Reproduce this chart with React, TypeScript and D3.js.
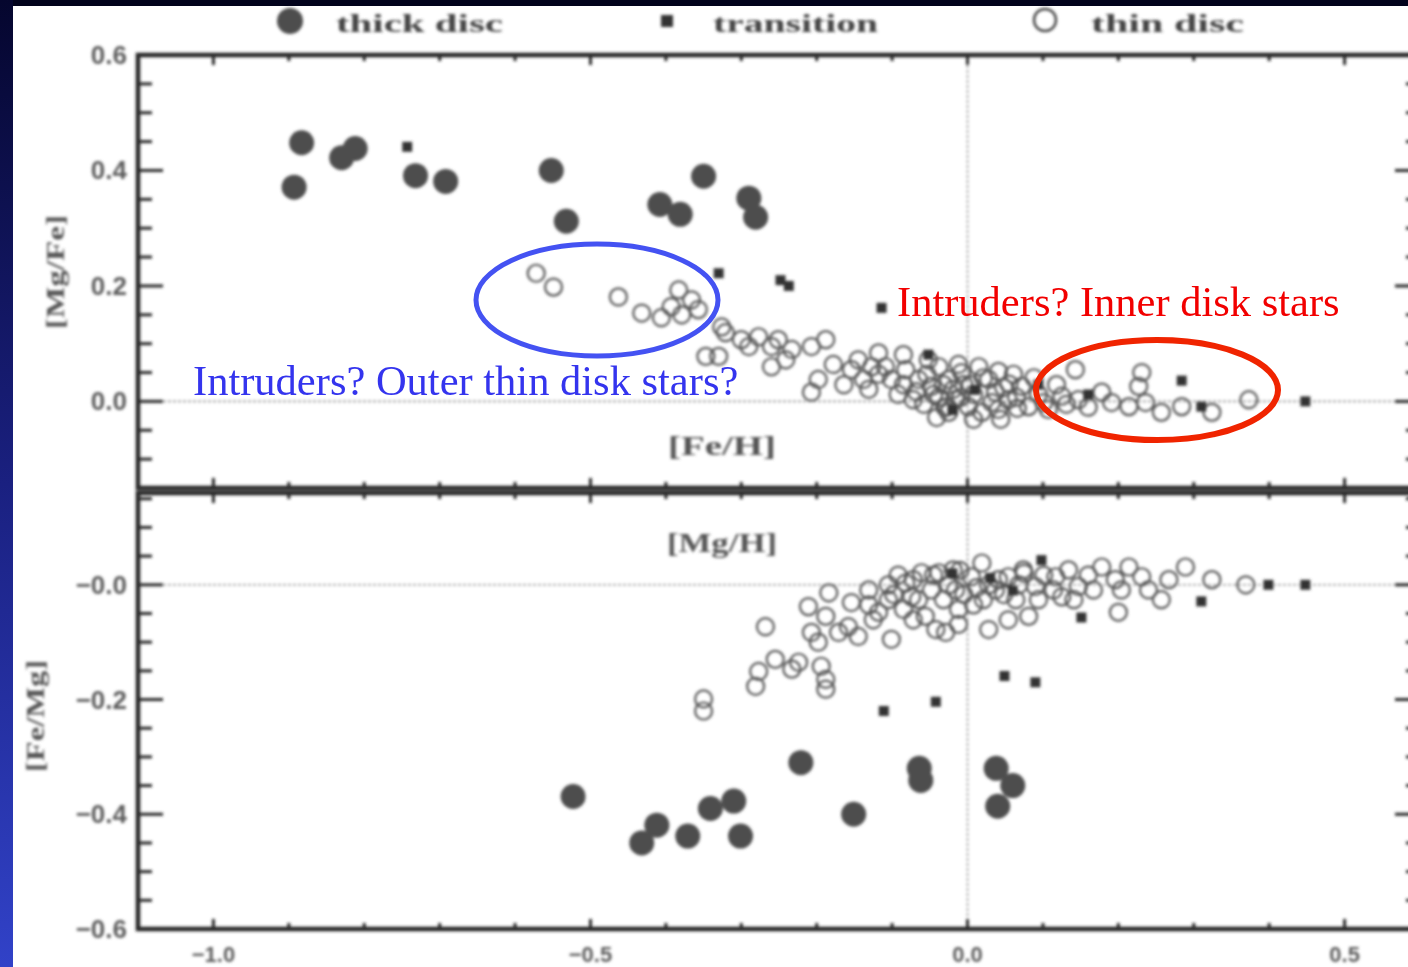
import React from "react";
import * as d3 from "d3";

const W = 1408;
const H = 967;

// Upper panel: [Fe/H] vs [Mg/Fe]
const thickTop: [number, number][] = [
  [-0.883, 0.448], [-0.893, 0.371], [-0.830, 0.422], [-0.812, 0.438],
  [-0.732, 0.391], [-0.692, 0.381], [-0.552, 0.400], [-0.532, 0.312],
  [-0.408, 0.341], [-0.381, 0.324], [-0.350, 0.390], [-0.290, 0.352],
  [-0.281, 0.319],
];

const transTop: [number, number][] = [
  [-0.743, 0.441], [-0.330, 0.222], [-0.248, 0.210], [-0.237, 0.200],
  [-0.114, 0.162], [0.448, 0.0], [0.284, 0.036], [0.310, -0.009],
  [-0.052, 0.081], [0.094, 0.029], [0.160, 0.012], [0.010, 0.020],
  [-0.020, -0.015],
];

const thinTop: [number, number][] = [
  [-0.572, 0.222], [-0.549, 0.198], [-0.463, 0.181], [-0.432, 0.153],
  [-0.406, 0.145], [-0.383, 0.193], [-0.366, 0.176], [-0.357, 0.159],
  [-0.379, 0.150], [-0.393, 0.164], [-0.347, 0.078], [-0.330, 0.078],
  [-0.326, 0.129], [-0.321, 0.119], [-0.300, 0.107], [-0.290, 0.095],
  [-0.277, 0.112], [-0.260, 0.095], [-0.251, 0.107], [-0.260, 0.060],
  [-0.241, 0.072], [-0.233, 0.090], [-0.207, 0.095], [-0.188, 0.107],
  [-0.198, 0.038], [-0.207, 0.016], [-0.154, 0.055], [-0.145, 0.072],
  [-0.118, 0.084], [-0.127, 0.060], [-0.109, 0.060], [-0.101, 0.038],
  [-0.082, 0.055], [-0.065, 0.038], [-0.048, 0.026], [-0.038, 0.060],
  [-0.025, 0.038], [-0.008, 0.050], [0.015, 0.060], [0.028, 0.038],
  [0.037, 0.016], [0.054, 0.003], [0.072, 0.026], [0.081, -0.009],
  [-0.016, 0.003], [0.001, -0.009], [0.019, -0.019], [-0.025, -0.019],
  [0.143, 0.055], [0.125, 0.009], [0.147, 0.003], [0.178, 0.016],
  [0.191, -0.002], [0.231, 0.050], [0.227, 0.026], [0.214, -0.009],
  [0.236, -0.002], [0.257, -0.019], [0.284, -0.009], [0.324, -0.019],
  [0.373, 0.003], [-0.092, 0.012], [-0.072, 0.003], [-0.058, -0.005],
  [-0.038, 0.007], [-0.019, 0.021], [-0.005, 0.029], [0.008, 0.012],
  [0.041, -0.014], [0.094, 0.012], [0.107, -0.014], [-0.131, 0.021],
  [-0.164, 0.029], [-0.178, 0.064], [-0.118, 0.047], [-0.012, 0.064],
  [0.041, 0.052], [0.061, 0.047], [-0.052, 0.072], [-0.085, 0.081],
  [-0.045, 0.012], [-0.030, -0.010], [0.055, 0.030], [0.066, -0.012],
  [-0.085, 0.029], [-0.068, 0.017], [-0.054, 0.047], [-0.032, 0.029],
  [-0.028, -0.010], [-0.009, 0.007], [0.004, 0.029], [0.021, 0.041],
  [0.032, -0.002], [0.048, 0.024], [0.065, 0.007], [0.088, 0.041],
  [0.101, -0.002], [0.118, 0.029], [0.131, -0.005], [0.160, -0.010],
  [-0.041, -0.028], [0.044, -0.031], [0.008, -0.031], [-0.138, 0.038],
];

// Lower panel: [Mg/H] vs [Fe/Mg]
const thickBot: [number, number][] = [
  [-0.523, -0.369], [-0.432, -0.450], [-0.412, -0.419], [-0.371, -0.438],
  [-0.341, -0.390], [-0.310, -0.377], [-0.301, -0.438], [-0.221, -0.310],
  [-0.151, -0.400], [-0.064, -0.320], [-0.062, -0.341], [0.038, -0.320],
  [0.060, -0.350], [0.040, -0.386],
];

const transBot: [number, number][] = [
  [-0.111, -0.220], [-0.042, -0.204], [0.049, -0.159], [0.090, -0.170],
  [0.151, -0.057], [0.310, -0.029], [0.399, 0.0], [0.448, 0.0],
  [0.098, 0.043], [0.030, 0.012], [-0.020, 0.020], [0.060, -0.010],
];

const thinBot: [number, number][] = [
  [-0.350, -0.199], [-0.350, -0.220], [-0.281, -0.177], [-0.277, -0.151],
  [-0.255, -0.130], [-0.233, -0.147], [-0.224, -0.135], [-0.188, -0.182],
  [-0.188, -0.165], [-0.194, -0.142], [-0.268, -0.073], [-0.211, -0.038],
  [-0.184, -0.014], [-0.188, -0.055], [-0.207, -0.083], [-0.198, -0.100],
  [-0.171, -0.083], [-0.158, -0.073], [-0.145, -0.090], [-0.154, -0.031],
  [-0.131, -0.009], [-0.118, -0.048], [-0.105, -0.026], [-0.101, -0.095],
  [-0.082, 0.003], [-0.074, -0.021], [-0.061, 0.021], [-0.048, -0.009],
  [-0.056, -0.055], [-0.038, 0.021], [-0.042, -0.078], [-0.029, -0.083],
  [-0.016, -0.009], [0.005, 0.014], [0.019, 0.038], [0.037, -0.009],
  [0.028, -0.078], [0.054, 0.014], [0.064, -0.026], [0.081, -0.055],
  [0.090, -0.003], [0.117, 0.014], [0.125, -0.021], [0.147, -0.003],
  [0.178, 0.031], [0.196, 0.009], [0.214, 0.031], [0.231, 0.014],
  [0.204, -0.009], [0.200, -0.048], [0.240, -0.009], [0.257, -0.026],
  [0.267, 0.009], [0.289, 0.031], [0.324, 0.009], [0.369, 0.0],
  [-0.105, 0.0], [-0.092, 0.017], [-0.072, 0.009], [-0.025, 0.0],
  [-0.005, -0.017], [0.021, -0.026], [0.041, 0.009], [0.068, 0.0],
  [0.101, 0.017], [0.134, 0.026], [-0.012, -0.043], [-0.125, -0.061],
  [0.160, 0.017], [-0.010, 0.025], [0.012, -0.005], [0.075, 0.020],
  [-0.098, -0.017], [-0.085, -0.043], [-0.065, -0.026], [-0.045, 0.017],
  [-0.032, -0.026], [-0.019, 0.026], [0.008, -0.035], [0.028, 0.0],
  [0.048, -0.017], [0.074, 0.026], [0.094, -0.026], [0.114, -0.009],
  [0.141, -0.026], [0.167, -0.009], [0.054, -0.061], [-0.012, -0.069],
  [-0.072, -0.061], [-0.131, -0.035],
];

const xTickValues = [-1.0, -0.5, 0.0, 0.5];
const xTickLabels = ["\u22121.0", "\u22120.5", "0.0", "0.5"];
const yTopTickValues = [0.6, 0.4, 0.2, 0.0];
const yTopTickLabels = ["0.6", "0.4", "0.2", "0.0"];
const yBotTickValues = [0.0, -0.2, -0.4, -0.6];
const yBotTickLabels = ["\u22120.0", "\u22120.2", "\u22120.4", "\u22120.6"];

const legendItems = ["thick disc", "transition", "thin disc"];

const x = d3.scaleLinear().domain([-1.1, 0.6]).range([138, 1420]);
const yTop = d3.scaleLinear().domain([-0.15, 0.6]).range([488, 55]);
const yBot = d3.scaleLinear().domain([-0.6, 0.16]).range([929, 493]);

const AXIS = "#262626";
const MARK = "#4d4d4d";
const LABEL = "#5c5c5c";

function Panel({ y, yTicks, yLabels, minorY }: {
  y: d3.ScaleLinear<number, number>;
  yTicks: number[];
  yLabels: string[];
  minorY: number[];
}) {
  const [x0, x1] = x.range();
  const [yb, yt] = y.range();
  const minorX = d3.range(-11, 7).map((v) => v / 10);
  return (
    <g>
      {/* zero reference lines */}
      <line x1={x0} x2={x1} y1={y(0)} y2={y(0)} stroke="#9a9a9a" strokeWidth={1.6} strokeDasharray="3 2" />
      <line x1={x(0)} x2={x(0)} y1={yt} y2={yb} stroke="#9a9a9a" strokeWidth={1.6} strokeDasharray="3 2" />
      {/* frame */}
      <rect x={x0} y={yt} width={x1 - x0} height={yb - yt} fill="none" stroke={AXIS} strokeWidth={4.5} />
      {/* y ticks, left and right */}
      {minorY.map((v, i) => {
        const major = yTicks.some((t) => Math.abs(t - v) < 1e-6);
        const len = major ? 25 : 14;
        return (
          <g key={"y" + i}>
            <line x1={x0} x2={x0 + len} y1={y(v)} y2={y(v)} stroke={AXIS} strokeWidth={3} />
            <line x1={x1} x2={x1 - len} y1={y(v)} y2={y(v)} stroke={AXIS} strokeWidth={3} />
          </g>
        );
      })}
      {/* x ticks, bottom and top */}
      {minorX.map((v, i) => {
        const major = xTickValues.some((t) => Math.abs(t - v) < 1e-6);
        const len = major ? 10 : 6;
        return (
          <g key={"x" + i}>
            <line x1={x(v)} x2={x(v)} y1={yb} y2={yb - len} stroke={AXIS} strokeWidth={3} />
            <line x1={x(v)} x2={x(v)} y1={yt} y2={yt + len} stroke={AXIS} strokeWidth={3} />
          </g>
        );
      })}
      {yTicks.map((v, i) => (
        <text key={"yl" + i} x={127} y={y(v) + 9} textAnchor="end" fontFamily="Liberation Sans, Arial, sans-serif"
          fontWeight="bold" fontSize={26} fill={LABEL}>
          {yLabels[i]}
        </text>
      ))}
    </g>
  );
}

function Points({ thick, trans, thin, y }: {
  thick: [number, number][];
  trans: [number, number][];
  thin: [number, number][];
  y: d3.ScaleLinear<number, number>;
}) {
  return (
    <g>
      {thin.map((d, i) => (
        <circle key={"o" + i} cx={x(d[0])} cy={y(d[1])} r={8.5} fill="none" stroke="#555" strokeWidth={2.2} />
      ))}
      {trans.map((d, i) => (
        <rect key={"s" + i} x={x(d[0]) - 5} y={y(d[1]) - 5} width={10} height={10} fill="#333" />
      ))}
      {thick.map((d, i) => (
        <circle key={"f" + i} cx={x(d[0])} cy={y(d[1])} r={12.5} fill={MARK} />
      ))}
    </g>
  );
}

export default function App() {
  const minorTop = d3.range(-3, 13).map((v) => v / 20);
  const minorBot = d3.range(-12, 4).map((v) => v / 20);
  const legendX = [290, 667, 1045];
  const legendW = [167, 165, 153];

  return (
    <div style={{ position: "absolute", left: 0, top: 0, width: W, height: H, overflow: "hidden" }}>
      <svg width={W} height={H} style={{ display: "block" }}>
        <defs>
          <linearGradient id="edge" x1="0" y1="0" x2="0" y2="1">
            <stop offset="0" stopColor="#05062e" />
            <stop offset="0.5" stopColor="#1a2080" />
            <stop offset="1" stopColor="#3142c8" />
          </linearGradient>
          <filter id="soft" x="-5%" y="-5%" width="110%" height="110%">
            <feGaussianBlur stdDeviation={1.7} />
          </filter>
        </defs>
        <rect x={0} y={0} width={W} height={H} fill="#ffffff" />
        <rect x={0} y={0} width={W} height={6} fill="#02031c" />
        <rect x={0} y={0} width={13} height={H} fill="url(#edge)" />

        <g filter="url(#soft)">
          {/* legend */}
          <circle cx={legendX[0]} cy={21} r={13} fill={MARK} />
          <rect x={legendX[1] - 6} y={15} width={12} height={12} fill="#333" />
          <circle cx={legendX[2]} cy={20} r={11} fill="none" stroke="#444" strokeWidth={2.5} />
          {legendItems.map((t, i) => (
            <text key={t} x={legendX[i] + 46} y={32} fontFamily="Liberation Serif, serif" fontWeight="bold"
              fontSize={26} fill="#444" textLength={legendW[i]} lengthAdjust="spacingAndGlyphs">
              {t}
            </text>
          ))}

          <Panel y={yTop} yTicks={yTopTickValues} yLabels={yTopTickLabels} minorY={minorTop} />
          <Panel y={yBot} yTicks={yBotTickValues} yLabels={yBotTickLabels} minorY={minorBot} />

          <Points thick={thickTop} trans={transTop} thin={thinTop} y={yTop} />
          <Points thick={thickBot} trans={transBot} thin={thinBot} y={yBot} />

          {/* axis titles */}
          <text x={722} y={455} textAnchor="middle" fontFamily="Liberation Serif, serif" fontWeight="bold"
            fontSize={28} fill="#555" textLength={108} lengthAdjust="spacingAndGlyphs">[Fe/H]</text>
          <text x={722} y={552} textAnchor="middle" fontFamily="Liberation Serif, serif" fontWeight="bold"
            fontSize={28} fill="#555" textLength={110} lengthAdjust="spacingAndGlyphs">[Mg/H]</text>
          <text transform="translate(64,272) rotate(-90)" textAnchor="middle" fontFamily="Liberation Serif, serif"
            fontWeight="bold" fontSize={26} fill="#555" textLength={114} lengthAdjust="spacingAndGlyphs">[Mg/Fe]</text>
          <text transform="translate(44,716) rotate(-90)" textAnchor="middle" fontFamily="Liberation Serif, serif"
            fontWeight="bold" fontSize={26} fill="#555" textLength={112} lengthAdjust="spacingAndGlyphs">[Fe/Mg]</text>

          {xTickValues.map((v, i) => (
            <text key={"xl" + i} x={x(v)} y={962} textAnchor="middle" fontFamily="Liberation Sans, Arial, sans-serif"
              fontWeight="bold" fontSize={22} fill={LABEL}>
              {xTickLabels[i]}
            </text>
          ))}
        </g>

        {/* annotations */}
        <ellipse cx={597} cy={300} rx={121} ry={56} fill="none" stroke="#4452f2" strokeWidth={5} />
        <ellipse cx={1157} cy={390} rx={121} ry={50} fill="none" stroke="#f02400" strokeWidth={6} />
        <text x={193} y={395} fontFamily="Liberation Serif, 'Times New Roman', serif" fontSize={42.5} fill="#3434ee">
          Intruders? Outer thin disk stars?
        </text>
        <text x={897} y={316} fontFamily="Liberation Serif, 'Times New Roman', serif" fontSize={42.5} fill="#f20000">
          Intruders? Inner disk stars
        </text>
      </svg>
    </div>
  );
}
